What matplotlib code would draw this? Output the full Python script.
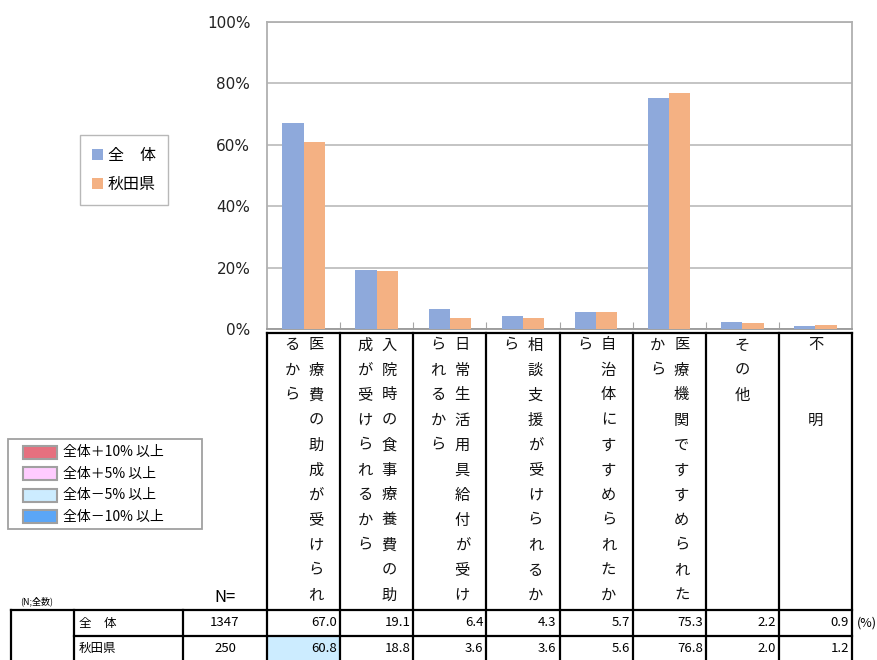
import numpy as np
import matplotlib
matplotlib.use("Agg")
import matplotlib.pyplot as plt
from matplotlib.patches import Rectangle

categories = [
    "医療費の助成が受けられるから",
    "入院時の食事療養費の助成が受けられるから",
    "日常生活用具給付が受けられるから",
    "相談支援が受けられるから",
    "自治体にすすめられたから",
    "医療機関ですすめられたから",
    "その他",
    "不　　明",
]
series_names = ["全　体", "秋田県"]
n_values = [1347, 250]
zentai = [67.0, 19.1, 6.4, 4.3, 5.7, 75.3, 2.2, 0.9]
akita = [60.8, 18.8, 3.6, 3.6, 5.6, 76.8, 2.0, 1.2]
yticks = [0, 20, 40, 60, 80, 100]
diff_labels = ["全体＋10% 以上", "全体＋5% 以上", "全体－5% 以上", "全体－10% 以上"]
diff_colors = ["#E6707F", "#FFCCFF", "#CCECFF", "#5BA6F7"]

plt.rcParams["font.family"] = ["Noto Sans CJK JP", "DejaVu Sans"]

W, H = 877, 660
C_BLUE = "#8EA9DB"
C_ORANGE = "#F4B183"
GRID = "#BFBFBF"


def fx(px):
    return px / W


def fy(py):
    return 1 - py / H


def diff_color(a, b):
    d = b - a
    if d >= 10:
        return diff_colors[0]
    if d >= 5:
        return diff_colors[1]
    if d <= -10:
        return diff_colors[3]
    if d <= -5:
        return diff_colors[2]
    return None


fig = plt.figure(figsize=(W / 100, H / 100), dpi=100)

# bar chart
p_left, p_right, p_top, p_bot = 267, 852, 22, 329
ax = fig.add_axes([fx(p_left), fy(p_bot), fx(p_right - p_left), (p_bot - p_top) / H])
x = np.arange(len(categories))
bw = 0.29
b1 = ax.bar(x - bw / 2, zentai, bw, color=C_BLUE, label=series_names[0], zorder=3)
b2 = ax.bar(x + bw / 2, akita, bw, color=C_ORANGE, label=series_names[1], zorder=3)
ax.set_xlim(-0.5, len(categories) - 0.5)
ax.set_ylim(0, 100)
ax.set_yticks(yticks)
ax.set_yticklabels([f"{v}%" for v in yticks], family="DejaVu Sans", fontsize=11, color="#222222")
ax.tick_params(axis="y", length=0, pad=12)
ax.set_xticks(np.arange(0.5, len(categories) - 0.5, 1))
ax.set_xticklabels([])
ax.tick_params(axis="x", direction="in", length=5, color="#A6A6A6")
ax.yaxis.grid(True, color=GRID, lw=1.3)
ax.set_axisbelow(True)
for s in ax.spines.values():
    s.set_color("#B0B0B0")
    s.set_linewidth(1.3)
ax.spines["bottom"].set_color("#999999")

fig.legend(handles=[b1, b2], labels=series_names, loc="upper left",
           bbox_to_anchor=(fx(80), fy(135)), fontsize=11.5, frameon=True,
           fancybox=False, edgecolor="#A6A6A6", handlelength=0.7, handleheight=0.7,
           handletextpad=0.3, labelspacing=0.75, borderpad=0.75, borderaxespad=0)

# overlay in pixel coordinates for the colour key and the table
ov = fig.add_axes([0, 0, 1, 1], facecolor="none")
ov.set_xlim(0, W)
ov.set_ylim(H, 0)
ov.axis("off")

# colour key for the table highlights
ov.add_patch(Rectangle((8, 439), 194, 90, facecolor="white", edgecolor="#A0A0A0", lw=1.3))
for j, (c, lab) in enumerate(zip(diff_colors, diff_labels)):
    yc = 452 + 21.6 * j
    ov.add_patch(Rectangle((23, yc - 6.5), 34, 13, facecolor=c, edgecolor="#A0A0A0", lw=1.5))
    ov.text(63, yc, lab, ha="left", va="center", fontsize=10)

cw = (p_right - p_left) / len(categories)
edges = [p_left + cw * i for i in range(len(categories) + 1)]
h_top, t_top, r_sep, t_bot = 333, 610, 636, 662
lw = 1.6
k = "black"

# highlight cells
for i, (a, b) in enumerate(zip(zentai, akita)):
    c = diff_color(a, b)
    if c:
        ov.add_patch(Rectangle((edges[i], r_sep), cw, t_bot - r_sep, facecolor=c, edgecolor="none"))

ov.plot([edges[0], edges[-1]], [h_top, h_top], color=k, lw=lw)
for e in edges:
    ov.plot([e, e], [h_top, t_bot], color=k, lw=lw)
ov.plot([11, edges[-1]], [t_top, t_top], color=k, lw=lw)
ov.plot([74, edges[-1]], [r_sep, r_sep], color=k, lw=lw)
for xv in [11, 74, 183]:
    ov.plot([xv, xv], [t_top, t_bot], color=k, lw=lw)

# vertical category labels (right column first)
row0, step = 345, 25
for i, lab in enumerate(categories):
    left = edges[i]
    if len(lab) > 11:
        cols = [(lab[:11], left + 49), (lab[11:], left + 25)]
    else:
        cols = [(lab, left + cw / 2)]
    for txt, xc in cols:
        for j, ch in enumerate(txt):
            ov.text(xc, row0 + step * j, ch, ha="center", va="center", fontsize=11, color="#111111")

ov.text(20, 601, "(N;全数)", ha="left", va="center", fontsize=6.5)
ov.text(225, 598, "N=", ha="center", va="center", fontsize=12)

for r, (name, n, vals) in enumerate(zip(series_names, n_values, [zentai, akita])):
    yc = 623 + 25 * r
    ov.text(79, yc, name, ha="left", va="center", fontsize=9)
    ov.text(225, yc, str(n), ha="center", va="center", fontsize=9.5)
    for i, v in enumerate(vals):
        ov.text(edges[i + 1] - 3, yc, f"{v:.1f}", ha="right", va="center", fontsize=9.5)
ov.text(857, 623, "(%)", ha="left", va="center", fontsize=9)

fig.savefig("out.png", dpi=100)
